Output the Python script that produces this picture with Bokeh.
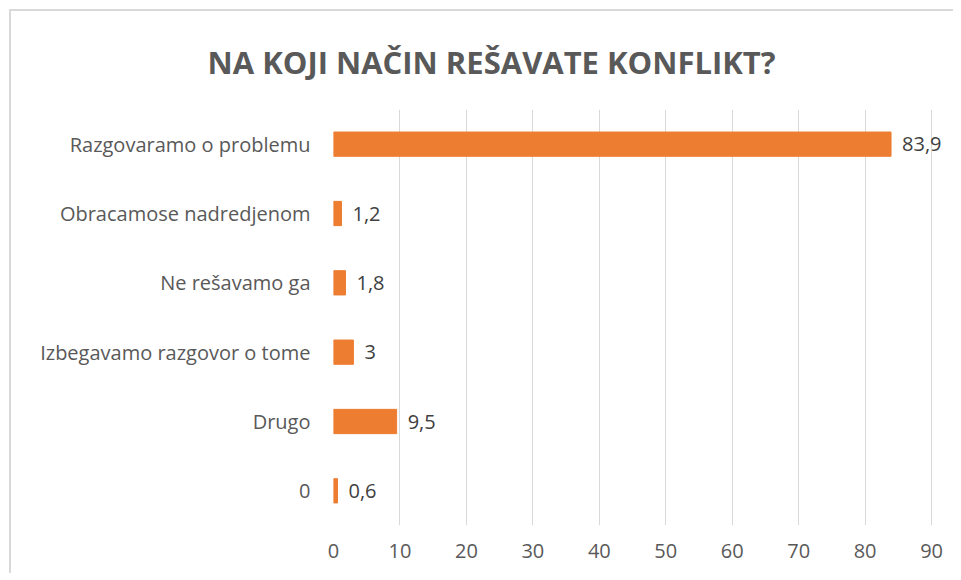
from bokeh.plotting import figure
from bokeh.models import ColumnDataSource, LabelSet, Range1d, FixedTicker
from bokeh.core.properties import value
from bokeh.embed import file_html
from bokeh.resources import INLINE

title_text = "NA KOJI NAČIN REŠAVATE KONFLIKT?"
categories = ["Razgovaramo o problemu", "Obracamose nadredjenom", "Ne rešavamo ga",
              "Izbegavamo razgovor o tome", "Drugo", "0"]
values = [83.9, 1.2, 1.8, 3, 9.5, 0.6]
value_labels = ["83,9", "1,2", "1,8", "3", "9,5", "0,6"]
x_ticks = [0, 10, 20, 30, 40, 50, 60, 70, 80, 90]

FONT = "Open Sans"

src = ColumnDataSource(dict(cat=categories, val=values, lab=value_labels))

p = figure(width=944, height=564, y_range=list(reversed(categories)),
           x_range=Range1d(0, 93.6), output_backend="svg", toolbar_location=None,
           min_border_left=322, min_border_right=0, min_border_top=97, min_border_bottom=50)

p.title.text = title_text
p.title.align = "left"
p.title.offset = -126
p.title.standoff = 54
p.title.text_font = FONT
p.title.text_font_size = "31px"
p.title.text_font_style = "bold"
p.title.text_color = "#595959"

p.hbar(y="cat", right="val", left=0, height=0.35, source=src,
       fill_color="#ED7D31", line_color="#ED7D31")

labels = LabelSet(x="val", y="cat", text="lab", source=src, x_offset=11,
                  text_baseline="middle", text_font=value(FONT), text_font_size="20px",
                  text_color="#404040")
p.add_layout(labels)

p.xaxis.ticker = FixedTicker(ticks=x_ticks)
p.xaxis.axis_line_color = None
p.xaxis.major_tick_line_color = None
p.xaxis.minor_tick_line_color = None
p.xaxis.major_label_text_font = FONT
p.xaxis.major_label_text_font_size = "20px"
p.xaxis.major_label_text_color = "#595959"
p.xaxis.major_label_standoff = 12

p.yaxis.axis_line_color = None
p.yaxis.major_tick_line_color = None
p.yaxis.major_label_text_font = FONT
p.yaxis.major_label_text_font_size = "20px"
p.yaxis.major_label_text_color = "#595959"
p.yaxis.major_label_standoff = 17

p.xgrid.grid_line_color = "#D9D9D9"
p.ygrid.grid_line_color = None
p.outline_line_color = None
p.styles = {"border-top": "2px solid #D9D9D9", "border-left": "2px solid #D9D9D9",
            "margin-top": "9px", "margin-left": "9px"}

open("out.html", "w").write(file_html(p, INLINE))
